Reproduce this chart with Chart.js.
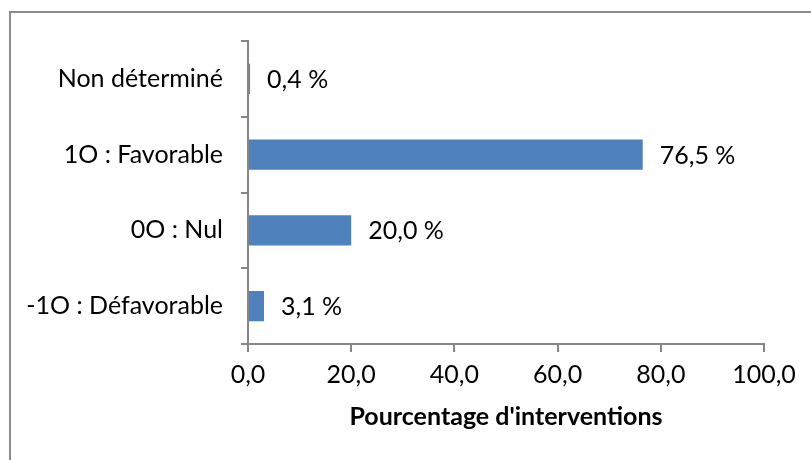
<!DOCTYPE html>
<html>
<head>
<meta charset="utf-8">
<script src="https://cdn.jsdelivr.net/npm/chart.js@4"></script>
<style>
  html, body { margin: 0; padding: 0; background: #fff; }
  #wrap { width: 811px; height: 460px; }
</style>
</head>
<body>
<div id="wrap"><canvas id="graphique"></canvas></div>
<script>
// données
const categories = ['Non déterminé', '1O : Favorable', '0O : Nul', '-1O : Défavorable'];
const pourcentages = [0.4, 76.5, 20.0, 3.1];
const titreAxe = "Pourcentage d'interventions";

const police = 'Lato, "Liberation Sans", sans-serif';
const taille = 25;
const gris = '#868686';

// cadre gris autour du graphique (bords gauche et haut visibles)
const cadre = {
  id: 'cadre',
  beforeDraw(chart) {
    const ctx = chart.ctx;
    ctx.save();
    ctx.fillStyle = '#fff';
    ctx.fillRect(0, 0, chart.width, chart.height);
    ctx.strokeStyle = '#8c8c8c';
    ctx.lineWidth = 2;
    ctx.beginPath();
    ctx.moveTo(10, chart.height + 5);
    ctx.lineTo(10, 12);
    ctx.lineTo(chart.width + 5, 12);
    ctx.stroke();
    ctx.restore();
  }
};

// étiquettes de valeur à droite des barres
const etiquettes = {
  id: 'etiquettes',
  afterDatasetsDraw(chart) {
    const ctx = chart.ctx;
    const meta = chart.getDatasetMeta(0);
    ctx.save();
    ctx.font = taille + 'px ' + police;
    ctx.fillStyle = '#000';
    ctx.textAlign = 'left';
    ctx.textBaseline = 'middle';
    meta.data.forEach((barre, i) => {
      const txt = pourcentages[i].toFixed(1).replace('.', ',') + ' %';
      ctx.fillText(txt, barre.x + 17, barre.y + 1);
    });
    ctx.restore();
  }
};

const ctx = document.getElementById('graphique').getContext('2d');
new Chart(ctx, {
  type: 'bar',
  data: {
    labels: categories,
    datasets: [{
      data: pourcentages,
      backgroundColor: '#4f81bd',
      borderWidth: 0,
      categoryPercentage: 1,
      barPercentage: 0.4
    }]
  },
  options: {
    indexAxis: 'y',
    responsive: true,
    maintainAspectRatio: false,
    animation: false,
    layout: { padding: { top: 41, right: 47, left: 0, bottom: 0 } },
    plugins: {
      legend: { display: false },
      tooltip: { enabled: false }
    },
    scales: {
      x: {
        min: 0,
        max: 100,
        afterFit(scale) { scale.height = 116; },
        ticks: {
          stepSize: 20,
          color: '#000',
          padding: 8,
          font: { family: police, size: taille },
          callback: v => v.toFixed(1).replace('.', ',')
        },
        grid: { drawOnChartArea: false, drawTicks: true, tickLength: 8, color: gris, lineWidth: 2 },
        border: { color: gris, width: 2 },
        title: {
          display: true,
          text: titreAxe,
          color: '#000',
          font: { family: police, size: taille, weight: 'bold' },
          padding: { top: 0, bottom: 28 }
        }
      },
      y: {
        afterFit(scale) { scale.width = 248; },
        ticks: {
          color: '#000',
          padding: 18,
          font: { family: police, size: taille }
        },
        grid: { drawOnChartArea: false, drawTicks: true, tickLength: 7, color: gris, lineWidth: 2 },
        border: { color: gris, width: 2 }
      }
    }
  },
  plugins: [cadre, etiquettes]
});
</script>
</body>
</html>
